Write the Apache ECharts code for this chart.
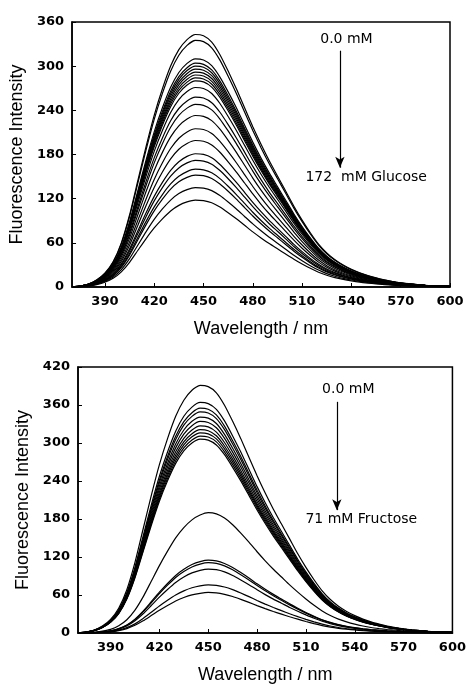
<!DOCTYPE html>
<html>
<head>
<meta charset="utf-8">
<script src="https://cdn.jsdelivr.net/npm/echarts@6/dist/echarts.min.js"></script>
<style>
  html, body { margin: 0; padding: 0; background: #fff; }
  #chart { width: 469px; height: 686px; }
</style>
</head>
<body>
<div id="chart"></div>
<script>
// wavelength grid (nm)
const wavelengths = [370, 375, 380, 385, 390, 395, 400, 405, 410, 415,
  420, 425, 430, 435, 440, 445, 450, 455, 460, 465,
  470, 475, 480, 485, 490, 495, 500, 505, 510, 515,
  520, 525, 530, 535, 540, 545, 550, 555, 560, 565,
  570, 575, 580, 585, 590, 595, 600];

// emission band shape (relative to peak)
const profileA = [0, 0.004, 0.012, 0.028, 0.055, 0.10, 0.175, 0.285, 0.42, 0.555,
  0.68, 0.785, 0.875, 0.94, 0.98, 1.0, 0.995, 0.97, 0.92, 0.855,
  0.785, 0.71, 0.635, 0.565, 0.5, 0.44, 0.38, 0.32, 0.265, 0.215,
  0.17, 0.135, 0.108, 0.087, 0.07, 0.056, 0.045, 0.036, 0.028, 0.022,
  0.017, 0.013, 0.01, 0.007, 0.005, 0.004, 0.003];
// slightly red-shifted shape of the strongly quenched fructose curves
const profileB = [0, 0.002, 0.006, 0.015, 0.03, 0.06, 0.11, 0.19, 0.3, 0.43,
  0.56, 0.68, 0.79, 0.875, 0.94, 0.98, 1.0, 0.99, 0.955, 0.9,
  0.83, 0.755, 0.675, 0.6, 0.53, 0.465, 0.4, 0.34, 0.283, 0.23,
  0.183, 0.145, 0.115, 0.092, 0.073, 0.058, 0.046, 0.037, 0.029, 0.023,
  0.018, 0.014, 0.01, 0.007, 0.005, 0.004, 0.003];

// peak intensities, 0.0 mM -> 172 mM glucose
const glucosePeaks = [343, 335, 310, 304, 300, 296, 292, 288, 284, 280, 271,
  258, 248, 233, 215, 199, 181, 172, 160, 152, 135, 118];
// peak intensities, 0.0 mM -> 71 mM fructose
const fructosePeaksHigh = [391, 364, 355, 349, 341, 334, 327, 321, 316, 311, 306];
const fructosePeaksLow = [190, 115, 111, 101, 76, 64];

const xTicks = [390, 420, 450, 480, 510, 540, 570, 600];

const labelFont = { color: '#000', fontFamily: 'DejaVu Sans', fontSize: 13, fontWeight: 'bold' };
const titleFont = { color: '#000', fontFamily: 'Liberation Sans', fontSize: 18 };
const noteFont = { color: '#000', fontFamily: 'DejaVu Sans', fontSize: 14 };

function curves(peaks, profile, idx) {
  return peaks.map(p => ({
    type: 'line',
    xAxisIndex: idx,
    yAxisIndex: idx,
    showSymbol: false,
    silent: true,
    smooth: 0.2,
    lineStyle: { color: '#000', width: 1.2 },
    data: wavelengths.map((w, i) => [w, +(profile[i] * p).toFixed(1)])
  }));
}

function xAxis(idx) {
  return {
    type: 'value', gridIndex: idx, min: 370, max: 600,
    axisLine: { show: true, onZero: false, lineStyle: { color: '#000', width: 1.5 } },
    axisTick: { show: true, inside: true, length: 4, customValues: xTicks, lineStyle: { color: '#000' } },
    axisLabel: Object.assign({ customValues: xTicks, margin: 8 }, labelFont),
    splitLine: { show: false },
    name: 'Wavelength / nm', nameLocation: 'middle', nameGap: 33,
    nameTextStyle: titleFont
  };
}

function yAxis(idx, max) {
  return {
    type: 'value', gridIndex: idx, min: 0, max: max, interval: 60,
    axisLine: { show: true, onZero: false, lineStyle: { color: '#000', width: 1.5 } },
    axisTick: { show: true, inside: true, length: 4, lineStyle: { color: '#000' } },
    axisLabel: Object.assign({ margin: 8 }, labelFont),
    splitLine: { show: false },
    name: 'Fluorescence Intensity', nameLocation: 'middle', nameGap: 42,
    nameTextStyle: titleFont
  };
}

function arrow(x, y1, y2) {
  return {
    silent: true,
    symbol: ['none', 'arrow'],
    symbolSize: [7, 11],
    label: { show: false },
    lineStyle: { color: '#000', width: 1.2, type: 'solid' },
    data: [[{ coord: [x, y1] }, { coord: [x, y2] }]]
  };
}

function notes(items) {
  return {
    silent: true,
    symbol: 'circle',
    symbolSize: 1,
    itemStyle: { color: 'rgba(0,0,0,0)' },
    label: Object.assign({ show: true, position: 'inside', formatter: p => p.name }, noteFont),
    data: items.map(t => ({ name: t[0], coord: [t[1], t[2]] }))
  };
}

const topSeries = curves(glucosePeaks, profileA, 0);
topSeries[0].markLine = arrow(533, 321, 162);
topSeries[0].markPoint = notes([['0.0 mM', 537, 337], ['172  mM Glucose', 549, 149]]);

const bottomSeries = curves(fructosePeaksHigh, profileA, 1)
  .concat(curves(fructosePeaksLow, profileB, 1));
bottomSeries[0].markLine = arrow(529, 365, 194);
bottomSeries[0].markPoint = notes([['0.0 mM', 536, 385], ['71 mM Fructose', 544, 180]]);

const chart = echarts.init(document.getElementById('chart'));
chart.setOption({
  animation: false,
  backgroundColor: '#fff',
  grid: [
    { left: 71, top: 22, width: 379, height: 265, show: true, borderColor: '#000', borderWidth: 1.5 },
    { left: 78, top: 367, width: 377, height: 266, show: true, borderColor: '#000', borderWidth: 1.5 }
  ],
  xAxis: [xAxis(0), xAxis(1)],
  yAxis: [yAxis(0, 360), yAxis(1, 420)],
  series: topSeries.concat(bottomSeries)
});
</script>
</body>
</html>
